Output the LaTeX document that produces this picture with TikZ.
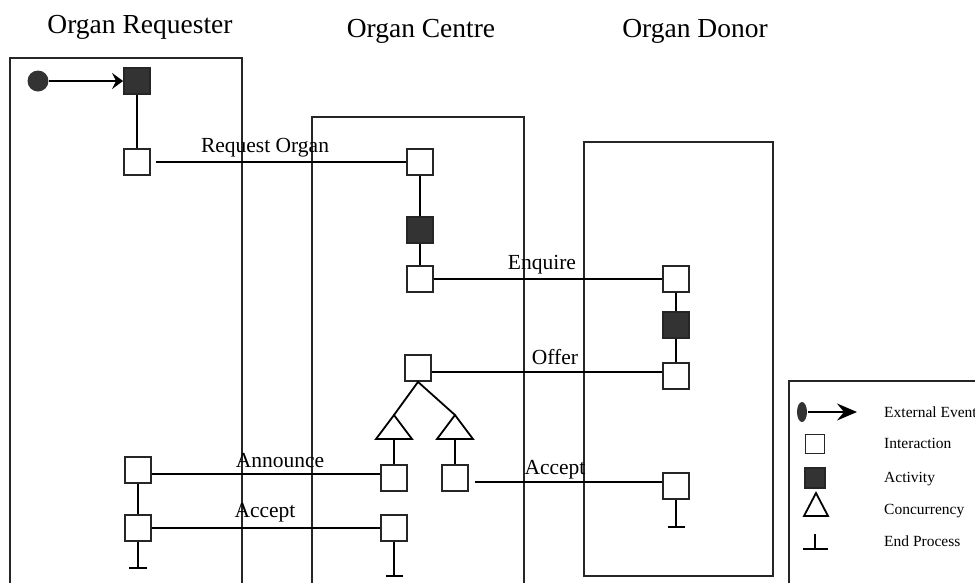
\documentclass[tikz,border=0pt]{standalone}
\usepackage{fontspec}
\setmainfont{Liberation Serif}
\usepackage{tikz}
\usetikzlibrary{arrows.meta,shapes.geometric,calc}

\begin{document}
\begin{tikzpicture}[x=1pt, y=-1pt, line width=1.8pt,
    every node/.style={font=\fontsize{21.5}{24}\selectfont},
    lane/.style={draw=black!85},
    title/.style={font=\fontsize{27.5}{30}\selectfont, anchor=base},
    lbl/.style={anchor=base},
    leglbl/.style={font=\fontsize{15.5}{18}\selectfont, anchor=base west},
    inter/.style={draw=black!85, fill=white, minimum size=26, inner sep=0},
    activ/.style={draw=black!85, fill=black!80, minimum size=26, inner sep=0},
    evtip/.style={-{Stealth[length=11, width=16, inset=4]}}]
  \useasboundingbox (0,0) rectangle (975,582);
  \clip (0,0) rectangle (975,582);
  % lanes
  \draw[lane] (10,58) rectangle (242,600);
  \draw[lane] (312,117) rectangle (524,600);
  \draw[lane] (584,142) rectangle (773,576);
  \node[title] (treq) at (140,33) {Organ Requester};
  \node[title] (tcen) at (421,37) {Organ Centre};
  \node[title] (tdon) at (695,37) {Organ Donor};
  % Organ Requester
  \node[circle, fill=black!80, minimum size=21, inner sep=0] (ev) at (38,81) {};
  \node[activ] (ra1) at (137,81) {};
  \node[inter] (ri1) at (137,162) {};
  \node[inter] (ri2) at (138,470) {};
  \node[inter] (ri3) at (138,528) {};
  % Organ Centre
  \node[inter] (ci1) at (420,162) {};
  \node[activ] (ca1) at (420,230) {};
  \node[inter] (ci2) at (420,279) {};
  \node[inter] (ci3) at (418,368) {};
  \coordinate (t1) at (394,415);
  \coordinate (t2) at (455,415);
  \coordinate (t1b) at (394,439);
  \coordinate (t2b) at (455,439);
  \node[inter] (ci4) at (394,478) {};
  \node[inter] (ci5) at (455,478) {};
  \node[inter] (ci6) at (394,528) {};
  % Organ Donor
  \node[inter] (di1) at (676,279) {};
  \node[activ] (da1) at (676,325) {};
  \node[inter] (di2) at (676,376) {};
  \node[inter] (di3) at (676,486) {};
  % flow inside lanes
  \draw[evtip] (ev) -- (ra1);
  \draw (ra1) -- (ri1);
  \draw (ri2) -- (ri3);
  \draw (ci1) -- (ca1) -- (ci2);
  \draw (di1) -- (da1) -- (di2);
  \draw (t1) -- (ci3.south) -- (t2);
  \draw (t1) -- ++(-18,24) -- ++(36,0) -- cycle;
  \draw (t2) -- ++(-18,24) -- ++(36,0) -- cycle;
  \draw (t1b) -- (ci4);
  \draw (t2b) -- (ci5);
  % end process
  \draw (ri3.south) -- ++(0,26) coordinate (re);
  \draw ($(re)+(-9,0)$) -- ++(18,0);
  \draw (ci6.south) -- ++(0,34) coordinate (ce);
  \draw ($(ce)+(-8,0)$) -- ++(17,0);
  \draw (di3.south) -- ++(0,27) coordinate (de);
  \draw ($(de)+(-8,0)$) -- ++(17,0);
  % interactions between lanes
  \draw[shorten <=5] (ri1.east) -- (ci1.west);
  \node[lbl] (lreq) at (265,152) {Request Organ};
  \draw (ci2.east) -- (di1.west);
  \node[lbl] (lenq) at (542,269) {Enquire};
  \coordinate (off) at ($(ci3.east)!.5!(di2.west)$);
  \draw (off -| ci3.east) -- (off -| di2.west);
  \node[lbl] (loff) at (555,364) {Offer};
  \coordinate (ann) at ($(ri2.east)!.5!(ci4.west)$);
  \draw (ann -| ri2.east) -- (ann -| ci4.west);
  \node[lbl] (lann) at (280,467) {Announce};
  \draw (ri3.east) -- (ci6.west);
  \node[lbl] (lacc) at (265,517) {Accept};
  \coordinate (acc) at ($(ci5.east)!.5!(di3.west)$);
  \draw[shorten <=6] (acc -| ci5.east) -- (acc -| di3.west);
  \node[lbl] (lacd) at (555,474) {Accept};
  % legend
  \draw[lane] (789,381) rectangle (1000,600);
  \node[ellipse, fill=black!80, minimum width=10, minimum height=20, inner sep=0] (gev) at (802,412) {};
  \coordinate (gevt) at (857,412);
  \draw[-{Stealth[length=20, width=17, inset=7]}] (gev) -- (gevt);
  \node[inter, minimum size=19] (gin) at (815,444) {};
  \node[activ, minimum size=20] (gac) at (815,478) {};
  \coordinate (gco) at (816,493);
  \draw (gco) -- ++(-12,23) -- ++(24,0) -- cycle;
  \coordinate (gen) at (815,534);
  \draw (gen) -- ++(0,15) coordinate (genb);
  \draw ($(genb)+(-12,0)$) -- ++(25,0);
  \foreach \t/\y [count=\k] in {External Event/417, Interaction/448, Activity/482, Concurrency/514, End Process/546}
    \node[leglbl] (leg\k) at (880,\y) {\t};
\end{tikzpicture}
\end{document}
